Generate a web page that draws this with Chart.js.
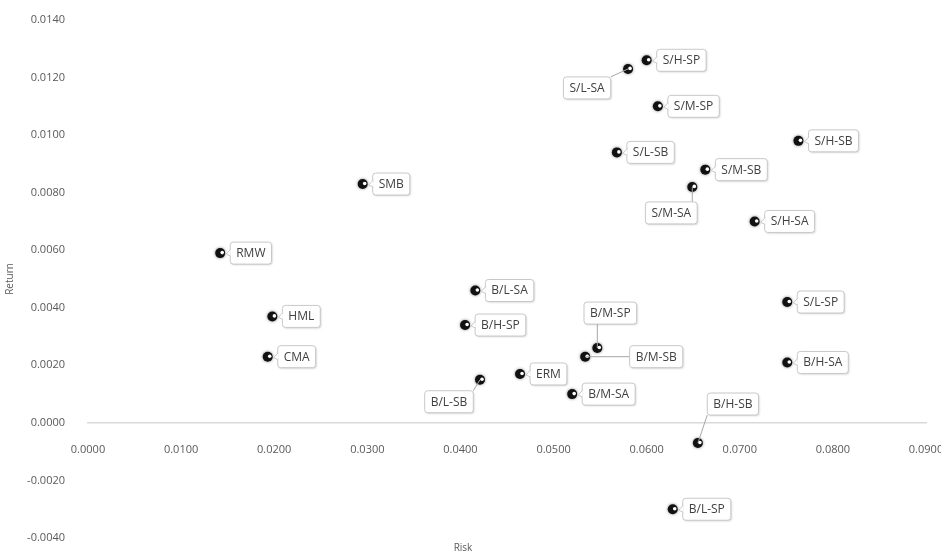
<!DOCTYPE html>
<html>
<head>
<meta charset="utf-8">
<script src="https://cdn.jsdelivr.net/npm/chart.js@4.4.1/dist/chart.umd.min.js"></script>
<style>
  html, body { margin: 0; padding: 0; background: #fff; }
  #wrap { width: 941px; height: 555px; }
</style>
</head>
<body>
<div id="wrap"><canvas id="chart"></canvas></div>
<script>
// Portfolios / Faktoren
const names = ['RMW', 'HML', 'CMA', 'SMB', 'B/L-SA', 'B/H-SP', 'B/L-SB', 'ERM', 'B/M-SA', 'B/M-SB',
  'B/M-SP', 'S/L-SP', 'B/H-SA', 'B/H-SB', 'B/L-SP', 'S/L-SA', 'S/H-SP', 'S/M-SP', 'S/L-SB',
  'S/M-SB', 'S/M-SA', 'S/H-SB', 'S/H-SA'];
const risk = [0.0142, 0.0198, 0.0193, 0.0295, 0.0416, 0.0405, 0.0421, 0.0464, 0.0520, 0.0534,
  0.0547, 0.0751, 0.0751, 0.0655, 0.0628, 0.0580, 0.0600, 0.0612, 0.0568,
  0.0663, 0.0649, 0.0763, 0.0716];
const ret = [0.0059, 0.0037, 0.0023, 0.0083, 0.0046, 0.0034, 0.0015, 0.0017, 0.0010, 0.0023,
  0.0026, 0.0042, 0.0021, -0.0007, -0.0030, 0.0123, 0.0126, 0.0110, 0.0094,
  0.0088, 0.0082, 0.0098, 0.0070];

const xTicks = [0, 0.01, 0.02, 0.03, 0.04, 0.05, 0.06, 0.07, 0.08, 0.09];
const yTicks = [-0.004, -0.002, 0, 0.002, 0.004, 0.006, 0.008, 0.010, 0.012, 0.014];

// Labels, die nicht rechts neben dem Punkt stehen (Versatz der Box-Mitte in px)
const labelShift = {
  'S/L-SA': [-41, 19],
  'S/M-SA': [-21, 26],
  'B/L-SB': [-31, 22],
  'B/H-SB': [35, -39],
  'B/M-SP': [13, -35],
  'B/M-SB': [71, 0]
};

const points = risk.map((r, i) => ({ x: r, y: ret[i] }));

function roundRect(ctx, x, y, w, h, r) {
  ctx.beginPath();
  ctx.moveTo(x + r, y);
  ctx.lineTo(x + w - r, y);
  ctx.quadraticCurveTo(x + w, y, x + w, y + r);
  ctx.lineTo(x + w, y + h - r);
  ctx.quadraticCurveTo(x + w, y + h, x + w - r, y + h);
  ctx.lineTo(x + r, y + h);
  ctx.quadraticCurveTo(x, y + h, x, y + h - r);
  ctx.lineTo(x, y + r);
  ctx.quadraticCurveTo(x, y, x + r, y);
  ctx.closePath();
}

// Marker-Glanz und Beschriftungen
const calloutPlugin = {
  id: 'callouts',
  beforeDatasetsDraw(chart) {
    chart.ctx.save();
    chart.ctx.shadowColor = 'rgba(0,0,0,0.5)';
    chart.ctx.shadowBlur = 3;
  },
  afterDatasetsDraw(chart) {
    const ctx = chart.ctx;
    ctx.restore();
    const meta = chart.getDatasetMeta(0);
    ctx.save();
    ctx.font = '12px "Open Sans"';
    ctx.textBaseline = 'middle';
    ctx.textAlign = 'center';
    meta.data.forEach((pt, i) => {
      const px = pt.x, py = pt.y;
      // weisser Glanzpunkt
      ctx.fillStyle = '#fff';
      ctx.beginPath();
      ctx.arc(px + 2, py - 0.5, 1.8, 0, Math.PI * 2);
      ctx.fill();

      const name = names[i];
      const w = ctx.measureText(name).width + 12;
      const h = 22;
      let cx, cy;
      const shift = labelShift[name];
      if (shift) {
        cx = px + shift[0];
        cy = py + shift[1];
      } else {
        cx = px + 10 + w / 2;
        cy = py;
      }
      const bx = cx - w / 2, by = cy - h / 2;

      // Leader-Linie
      if (shift) {
        let ex = Math.max(bx, Math.min(px, bx + w));
        let ey = Math.max(by, Math.min(py, by + h));
        ctx.strokeStyle = '#a6a6a6';
        ctx.lineWidth = 1;
        ctx.beginPath();
        ctx.moveTo(px, py);
        ctx.lineTo(ex, ey);
        ctx.stroke();
      }

      ctx.shadowColor = 'rgba(0,0,0,0.18)';
      ctx.shadowBlur = 2;
      ctx.shadowOffsetX = 1;
      ctx.shadowOffsetY = 1;
      roundRect(ctx, bx, by, w, h, 3);
      ctx.fillStyle = '#fff';
      ctx.fill();
      ctx.shadowColor = 'transparent';
      ctx.strokeStyle = '#c8c8c8';
      ctx.lineWidth = 1;
      ctx.stroke();

      // kleine Spitze links
      if (!shift) {
        ctx.beginPath();
        ctx.moveTo(bx + 0.5, cy - 4);
        ctx.lineTo(bx - 4, cy + 1);
        ctx.lineTo(bx + 0.5, cy + 3);
        ctx.closePath();
        ctx.fillStyle = '#fff';
        ctx.fill();
        ctx.beginPath();
        ctx.moveTo(bx + 0.5, cy - 4);
        ctx.lineTo(bx - 4, cy + 1);
        ctx.lineTo(bx + 0.5, cy + 3);
        ctx.stroke();
      }

      ctx.fillStyle = '#404040';
      ctx.fillText(name, cx, cy + 0.5);
    });
    ctx.restore();
  }
};

const ctx = document.getElementById('chart');
new Chart(ctx, {
  type: 'scatter',
  data: {
    datasets: [{
      label: 'Portfolios',
      data: points,
      backgroundColor: '#111',
      borderWidth: 0,
      pointRadius: 5,
      pointHoverRadius: 5
    }]
  },
  options: {
    responsive: true,
    maintainAspectRatio: false,
    animation: false,
    layout: { padding: { top: 20, right: 15, left: 0, bottom: 0 } },
    plugins: {
      legend: { display: false },
      tooltip: { enabled: false },
      title: {
        display: true,
        text: 'Risk',
        position: 'bottom',
        color: '#595959',
        font: { family: 'Open Sans', size: 10, weight: 'normal' },
        padding: { top: 4, bottom: 1 }
      }
    },
    scales: {
      x: {
        type: 'linear',
        position: { y: 0 },
        min: 0,
        max: 0.09,
        afterBuildTicks: s => { s.ticks = xTicks.map(v => ({ value: v })); },
        afterFit: s => { s.paddingLeft = 0; s.paddingRight = 0; },
        grid: { display: false },
        border: { display: true, color: '#d9d9d9', width: 1.5 },
        ticks: {
          padding: 12,
          color: '#595959',
          font: { family: 'Open Sans', size: 11 },
          callback: v => v.toFixed(4)
        }
      },
      y: {
        type: 'linear',
        position: 'left',
        min: -0.004,
        max: 0.014,
        afterBuildTicks: s => { s.ticks = yTicks.map(v => ({ value: v })); },
        afterFit: s => { s.width = 88; s.paddingTop = 0; s.paddingBottom = 0; },
        grid: { display: false },
        border: { display: false },
        title: {
          display: true,
          text: 'Return',
          color: '#595959',
          font: { family: 'Open Sans', size: 10 },
          padding: { top: 4, bottom: 0 }
        },
        ticks: {
          padding: 15,
          color: '#595959',
          font: { family: 'Open Sans', size: 11 },
          callback: v => v.toFixed(4)
        }
      }
    }
  },
  plugins: [calloutPlugin]
});
</script>
</body>
</html>
